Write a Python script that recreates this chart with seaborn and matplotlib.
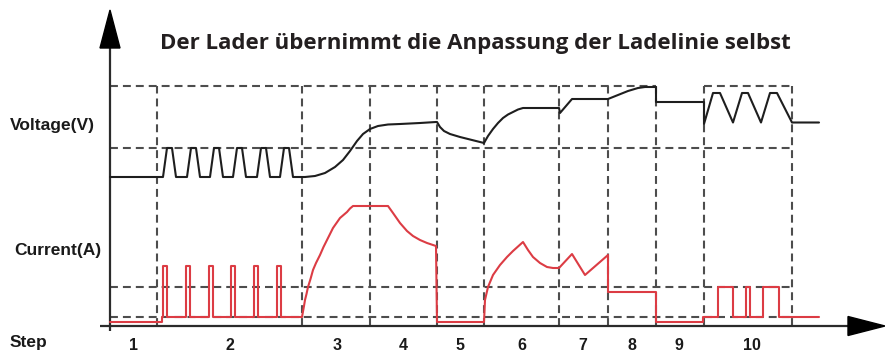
import matplotlib
matplotlib.use("Agg")
import matplotlib.pyplot as plt
import pandas as pd
import seaborn as sns
from matplotlib.patches import Polygon

# ---- data (time in arbitrary units from origin, levels above the time axis) ----
volt_t = [0, 53,
          53, 57, 62, 66, 77, 81, 86, 90, 100, 104, 109, 113,
          123, 127, 132, 136, 147, 151, 156, 160, 170, 174, 179, 183,
          195, 205, 215, 225, 233, 240, 247, 253, 260, 268, 278,
          290, 310, 326,
          327, 330, 334, 340, 350, 374,
          378, 383, 388, 393, 398, 403, 408, 413, 449,
          450, 456, 462, 498,
          508, 518, 528, 535, 546, 546,
          594, 594,
          603, 610, 623, 632, 638, 651, 660, 667, 682, 709]
volt_v = [149, 149,
          149, 178, 178, 149, 149, 178, 178, 149, 149, 178, 178, 149,
          149, 178, 178, 149, 149, 178, 178, 149, 149, 178, 178, 149,
          149, 150, 153, 159, 166, 175, 185, 192, 197, 200, 201.5,
          202, 203, 204,
          204, 199, 195, 192, 189, 183,
          190, 197, 203, 208, 211.5, 214, 216.5, 218, 218,
          213, 220, 227, 227,
          231, 235, 238, 239, 239, 224,
          224, 202,
          233, 233, 203.5, 233, 233, 203.5, 233, 233, 203.5, 203.5]

curr_t = [0, 52, 52,
          53, 53, 57, 57, 76, 76, 80, 80, 99, 99, 103, 103,
          121, 121, 125, 125, 144, 144, 148, 148, 167, 167, 171, 171,
          192, 194, 195, 196.5, 198, 200.5, 203, 206, 210, 213.5, 217,
          220, 223, 226.5, 230, 233.5, 237, 240, 243, 278,
          283, 290, 297, 303, 310, 317, 326, 327,
          374, 375, 378, 383, 390, 397, 403, 413,
          418, 423, 430, 437, 443, 449,
          462, 475, 498, 498,
          546, 546, 593, 593,
          608, 608, 623, 623, 636, 636, 640, 640, 653, 653, 669, 669, 709]
curr_a = [4, 4, 9,
          9, 60, 60, 9, 9, 60, 60, 9, 9, 60, 60, 9,
          9, 60, 60, 9, 9, 60, 60, 9, 9, 60, 60, 9,
          9, 20, 26, 32, 39, 47, 56, 63, 71, 79, 86,
          92, 98, 103, 108, 111, 114, 117.5, 120, 120,
          113, 103, 95, 90, 86, 83, 80, 4,
          4, 26, 39, 51, 61, 69, 75, 84,
          76, 69, 63, 59, 58, 58,
          72, 51, 71, 34,
          34, 4, 4, 9,
          9, 39, 39, 9, 9, 39, 39, 9, 9, 39, 39, 9, 9]

step_bounds = [47, 192, 260, 327, 374, 449, 498, 546, 594, 682]
ref_levels = [178, 39, 9]
top_level = 240
top_spans = [(0, 546), (594, 682)]
step_labels = ["1", "2", "3", "4", "5", "6", "7", "8", "9", "10"]
step_label_t = [23, 120, 227, 293, 350, 412, 473, 522, 569, 642]

title = "Der Lader übernimmt die Anpassung der Ladelinie selbst"

# ---- figure ----
sns.set_theme(style="white")
fig = plt.figure(figsize=(8.85, 3.51), dpi=100)
ax = fig.add_axes([0, 0, 1, 1])

dash_kw = dict(color="#4d4d4d", lw=1.5, linestyle=(0, (3.8, 2.4)), zorder=1)
for lvl in ref_levels:
    ax.plot([0, step_bounds[-1]], [lvl, lvl], **dash_kw)
for a, b in top_spans:
    ax.plot([a, b], [top_level, top_level], **dash_kw)
for b in step_bounds:
    ax.plot([b, b], [0, top_level], **dash_kw)

volt = pd.DataFrame({"t": volt_t, "v": volt_v})
curr = pd.DataFrame({"t": curr_t, "a": curr_a})
sns.lineplot(data=volt, x="t", y="v", sort=False, estimator=None,
             color="#1e1e1e", lw=1.5, ax=ax, zorder=3)
sns.lineplot(data=curr, x="t", y="a", sort=False, estimator=None,
             color="#dc3c44", lw=1.5, ax=ax, zorder=3)
ax.set_xlim(-110, 775)
ax.set_ylim(-25, 326)
ax.axis("off")

# axes with arrow heads
axis_col = "#2b2b2b"
ax.plot([0, 0], [-5, 280], color=axis_col, lw=1.6, zorder=2, solid_capstyle="butt")
ax.plot([-10, 740], [0, 0], color=axis_col, lw=1.6, zorder=2, solid_capstyle="butt")
ax.add_patch(Polygon([[-10, 278], [10, 278], [0, 316]], closed=True,
                     color="black", zorder=4))
ax.add_patch(Polygon([[738, -9.5], [738, 9.5], [775, 0]], closed=True,
                     color="black", zorder=4))

lab_kw = dict(fontfamily="Liberation Sans", fontweight="bold", fontsize=12.5,
              color="#1a1a1a", ha="left", va="baseline")
ax.text(-100, 196, "Voltage(V)", **lab_kw)
ax.text(-96, 71, "Current(A)", **lab_kw)
ax.text(-100, -21, "Step", **lab_kw)
for t, s in zip(step_label_t, step_labels):
    ax.text(t, -23.5, s, fontfamily="Liberation Sans", fontweight="bold",
            fontsize=11.5, color="#1a1a1a", ha="center", va="baseline")

ax.text(365, 277, title, fontfamily="Open Sans", fontweight="bold",
        fontsize=16, color="#231f20", ha="center", va="baseline")

fig.savefig("out.png", dpi=100)
